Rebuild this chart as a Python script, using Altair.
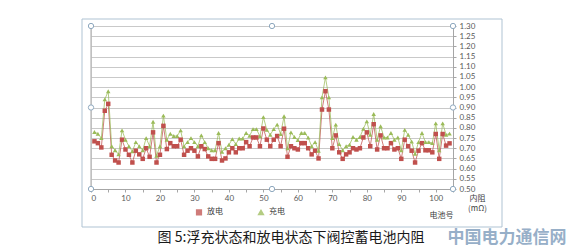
import altair as alt
import pandas as pd

# ---- data ----
battery_no = list(range(1, 105))
discharge = [
    0.734, 0.725, 0.704, 0.884, 0.918, 0.668, 0.640, 0.630, 0.742, 0.694,
    0.668, 0.630, 0.688, 0.670, 0.648, 0.700, 0.658, 0.778, 0.630, 0.668,
    0.810, 0.696, 0.725, 0.710, 0.710, 0.742, 0.668, 0.688, 0.700, 0.688,
    0.660, 0.710, 0.696, 0.660, 0.648, 0.648, 0.725, 0.640, 0.650, 0.680,
    0.700, 0.680, 0.700, 0.700, 0.730, 0.710, 0.753, 0.753, 0.710, 0.797,
    0.742, 0.710, 0.742, 0.760, 0.710, 0.796, 0.658, 0.710, 0.700, 0.694,
    0.725, 0.725, 0.700, 0.670, 0.688, 0.650, 0.890, 0.980, 0.890, 0.700,
    0.763, 0.680, 0.648, 0.670, 0.680, 0.700, 0.694, 0.700, 0.753, 0.778,
    0.710, 0.818, 0.694, 0.763, 0.700, 0.700, 0.725, 0.694, 0.700, 0.648,
    0.742, 0.710, 0.688, 0.630, 0.688, 0.725, 0.690, 0.690, 0.680, 0.770,
    0.648, 0.770, 0.713, 0.724,
]
charge = [
    0.780, 0.771, 0.750, 0.940, 0.980, 0.710, 0.690, 0.670, 0.788, 0.742,
    0.710, 0.685, 0.730, 0.710, 0.690, 0.750, 0.710, 0.830, 0.663, 0.710,
    0.860, 0.742, 0.771, 0.760, 0.760, 0.788, 0.710, 0.730, 0.750, 0.730,
    0.710, 0.763, 0.730, 0.700, 0.690, 0.690, 0.775, 0.683, 0.700, 0.717,
    0.745, 0.720, 0.748, 0.748, 0.775, 0.761, 0.794, 0.794, 0.758, 0.853,
    0.790, 0.766, 0.794, 0.816, 0.770, 0.857, 0.700, 0.778, 0.755, 0.740,
    0.775, 0.775, 0.752, 0.710, 0.730, 0.688, 0.950, 1.048, 0.950, 0.750,
    0.816, 0.720, 0.690, 0.710, 0.717, 0.755, 0.742, 0.755, 0.796, 0.832,
    0.766, 0.868, 0.742, 0.808, 0.753, 0.753, 0.775, 0.742, 0.753, 0.690,
    0.790, 0.766, 0.733, 0.673, 0.730, 0.775, 0.730, 0.730, 0.725, 0.822,
    0.690, 0.822, 0.766, 0.772,
]
series_names = ["放电", "充电"]
x_ticks = [0, 5, 10, 15, 20, 25, 30, 35, 40, 45, 50, 55, 60, 65, 70, 75, 80, 85, 90, 95, 100, 105]
y_ticks = [0.50, 0.55, 0.60, 0.65, 0.70, 0.75, 0.80, 0.85, 0.90, 0.95, 1.00,
           1.05, 1.10, 1.15, 1.20, 1.25, 1.30]
caption = "图 5:浮充状态和放电状态下阀控蓄电池内阻"
watermark = "中国电力通信网"

rows = []
for n, d, c in zip(battery_no, discharge, charge):
    rows.append({"no": n, "series": series_names[0], "r": d})
    rows.append({"no": n, "series": series_names[1], "r": c})
df = pd.DataFrame(rows)

W, H = 362, 163
COLORS = ["#C0504D", "#9BBB59"]
AXIS_GREY = "#A6A6A6"
LABEL_FONT = "Lato"
CJK = "Noto Sans CJK SC"

x_enc = alt.X(
    "no:Q",
    scale=alt.Scale(domain=[0, 105], nice=False, zero=False),
    axis=alt.Axis(
        values=x_ticks, format="d", title="电池号",
        titleFont=CJK, titleFontSize=8, titleFontWeight="normal", titleColor="#404040",
        titleAnchor="start", titleAlign="center", titleBaseline="middle",
        titleX=350, titleY=26,
        labelFont=LABEL_FONT, labelFontSize=8, labelColor="#595959", labelPadding=2,
        domainColor=AXIS_GREY, tickColor=AXIS_GREY, tickSize=3, grid=False,
    ),
)
y_enc = alt.Y(
    "r:Q",
    scale=alt.Scale(domain=[0.5, 1.3], nice=False, zero=False),
    axis=alt.Axis(
        orient="right", values=y_ticks, format=".2f",
        title=["内阻", "(mΩ)"], titleAngle=0,
        titleFont=CJK, titleFontSize=8, titleFontWeight="normal", titleColor="#404040",
        titleAlign="center", titleBaseline="middle", titleLineHeight=10,
        titleX=24, titleY=172,
        labelFont=LABEL_FONT, labelFontSize=8, labelColor="#595959", labelPadding=3,
        domainColor=AXIS_GREY, tickColor=AXIS_GREY, tickSize=3,
        grid=True, gridColor="#C9C9C9", gridWidth=1,
    ),
)
color_scale = alt.Scale(domain=series_names, range=COLORS)
shape_scale = alt.Scale(domain=series_names, range=["square", "triangle-up"])
leg = alt.Legend(
    title=None, orient="none", direction="horizontal", legendX=104, legendY=182,
    labelFont=CJK, labelFontSize=8, labelColor="#404040", symbolSize=22,
    columnPadding=32, labelOffset=4,
)

base = alt.Chart(df)
lines = base.mark_line(strokeWidth=1, opacity=0.75).encode(
    x=x_enc, y=y_enc,
    color=alt.Color("series:N", scale=color_scale, legend=leg),
    detail="series:N",
)
points = base.mark_point(filled=True, size=20, opacity=1).encode(
    x=x_enc, y=y_enc,
    color=alt.Color("series:N", scale=color_scale, legend=leg),
    shape=alt.Shape("series:N", scale=shape_scale, legend=leg),
)

one = pd.DataFrame({"k": [0]})

left_line = alt.Chart(one).mark_rule(color=AXIS_GREY, strokeWidth=1).encode(
    x=alt.value(0), y=alt.value(0), y2=alt.value(H)
)
frame = alt.Chart(one).mark_rect(fill=None, stroke="#AFC3D3", strokeWidth=1).encode(
    x=alt.value(-9), x2=alt.value(411), y=alt.value(-7), y2=alt.value(201)
)

handle_layers = []
for hx, hy in [(0, 0), (0, H / 2), (0, H), (W / 2, 0), (W / 2, H), (W, 0), (W, H / 2), (W, H)]:
    handle_layers.append(
        alt.Chart(one).mark_point(shape="circle", size=28, filled=False, fill="white",
                                  stroke="#8FA9BF", strokeWidth=1, opacity=1).encode(
            x=alt.value(hx), y=alt.value(hy)
        )
    )

cap = alt.Chart(one).mark_text(
    text=caption, font=CJK, fontSize=14, color="#1A1A1A", align="center", baseline="middle"
).encode(x=alt.value(200), y=alt.value(212))
wm = alt.Chart(one).mark_text(
    text=watermark, font=CJK, fontSize=17, fontWeight="bold", color="#97AFC8",
    align="center", baseline="middle"
).encode(x=alt.value(416), y=alt.value(212))

chart = alt.layer(frame, left_line, lines, points, *handle_layers, cap, wm).properties(
    width=W, height=H,
    autosize=alt.AutoSizeParams(type="none"),
    padding={"left": 91, "top": 26, "right": 578 - 91 - W, "bottom": 249 - 26 - H},
).configure_view(stroke=None).configure(background="white")

chart.save("out.html", embed_options={"renderer": "svg", "actions": False})
